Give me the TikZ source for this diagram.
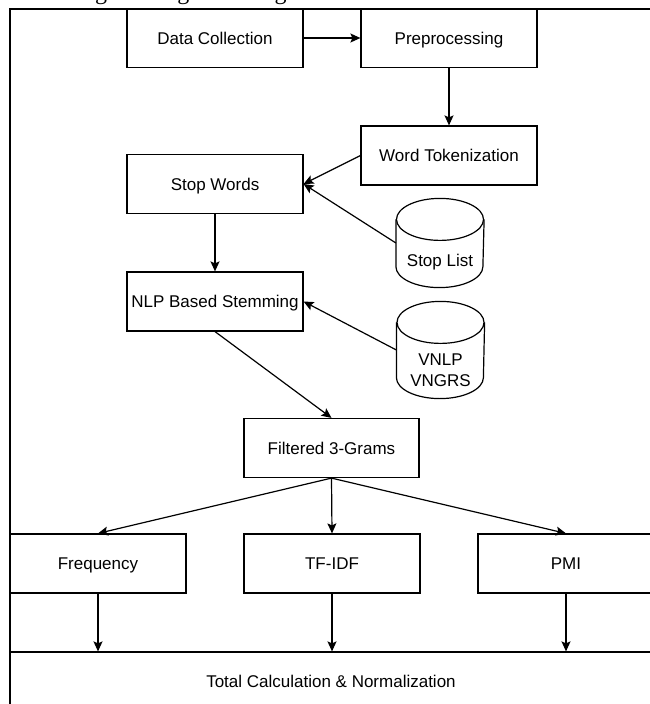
\documentclass[tikz,border=0pt]{standalone}
\usepackage{fontspec}
\setmainfont{Liberation Sans}
\newfontfamily\capfont{Liberation Serif}
\usetikzlibrary{shapes.geometric,arrows.meta,positioning}
\tikzset{
	every picture/.style={line width=1.2pt},
	flow/.style={-{Stealth[length=10pt,width=9pt,inset=2pt]}},
}
\begin{document}
\begin{tikzpicture}[x=1pt,y=-1pt,
		blk/.style={rectangle,draw,minimum width=176pt,minimum height=59pt,
			inner sep=0pt,text height=16.2pt,text depth=4pt,font=\fontsize{17}{20}\selectfont},
		db/.style={rectangle,minimum width=87pt,inner sep=0pt},
		dbtext/.style={font=\fontsize{17}{21}\selectfont,align=center,inner sep=0pt}]
	\useasboundingbox (0,0) rectangle (649,704);
	% caption line cut by the page edge
	\node[anchor=base west,inner sep=0pt,font=\capfont\fontsize{24}{26}\selectfont] (cap) at (20,-1) {Learning of Weights for Ngram Sets on total};
	\draw[line width=1.6pt] (10,720) -- (10,9) -- (660,9);
	% main pipeline
	\node[blk] (data) at (215,38) {Data Collection};
	\node[blk] (prep) at (449,38) {Preprocessing};
	\node[blk] (token) at (449,155.5) {Word Tokenization};
	\node[blk] (stopw) at (215,184) {Stop Words};
	\node[db,minimum height=88pt,label={[dbtext,yshift=-19pt]center:Stop List}] (stoplist) at (440,243) {};
	\node[blk] (nlp) at (215,301.5) {NLP Based Stemming};
	\node[db,minimum height=96pt,label={[dbtext,yshift=-20pt]center:VNLP\\VNGRS}] (vnlp) at (440.5,350) {};
	\node[blk,minimum width=175pt] (filt) at (331.5,448) {Filtered 3-Grams};
	% weighting
	\node[blk] (freq) at (98,563.5) {Frequency};
	\node[blk] (tfidf) at (332,563.5) {TF-IDF};
	\node[blk] (pmi) at (566,563.5) {PMI};
	\node[blk,minimum width=642pt] (total) at (331,681.5) {Total Calculation \& Normalization};

	% database drums
	\foreach \n in {stoplist,vnlp} {
		\draw ([yshift=-21pt]\n.north west) -- ([yshift=21pt]\n.south west)
			arc[start angle=180,end angle=360,x radius=43.5pt,y radius=21pt]
			-- ([yshift=-21pt]\n.north east);
		\draw ([yshift=-21pt]\n.north) ellipse[x radius=43.5pt,y radius=21pt];
	}

	\draw[flow] (data) -- (prep);
	\draw[flow] (prep) -- (token);
	\draw[flow] (token.west) -- (stopw.east);
	\draw[flow] (stoplist.west) -- (stopw.east);
	\draw[flow] (stopw) -- (nlp);
	\draw[flow] (vnlp.west) -- (nlp.east);
	\draw[flow] (nlp.south) -- (filt.north);
	\draw[flow] (filt.south) -- (freq.north);
	\draw[flow] (filt.south) -- (tfidf.north);
	\draw[flow] (filt.south) -- (pmi.north);
	\foreach \n in {freq,tfidf,pmi}
		\draw[flow] (\n.south) -- (\n.south |- total.north);
\end{tikzpicture}
\end{document}
